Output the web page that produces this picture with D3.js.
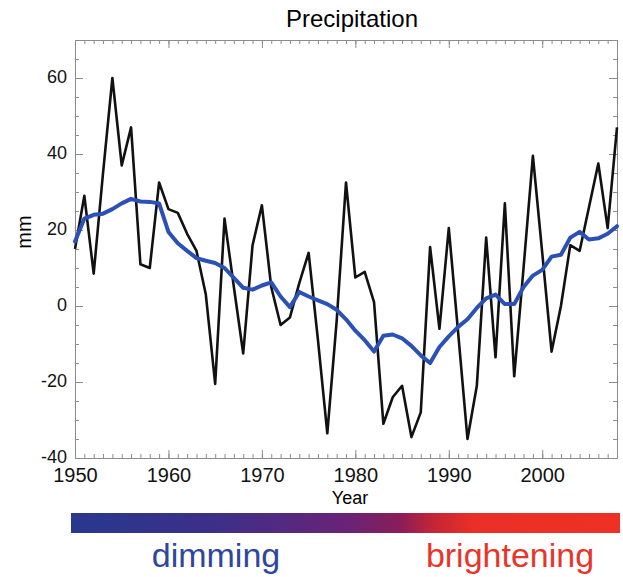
<!DOCTYPE html>
<html>
<head>
<meta charset="utf-8">
<script src="https://cdn.jsdelivr.net/npm/d3@7"></script>
<style>
  body { margin: 0; background: #fff; }
  svg { display: block; font-family: "Liberation Sans", Arial, sans-serif; }
  .axis path, .axis line { stroke: #8c8c8c; }
  .axis text { fill: #111; }
</style>
</head>
<body>
<div id="chart"></div>
<script>
const years = d3.range(1950, 2009);

// annual precipitation anomaly (black)
const annual = [
  15, 29, 8.5, 35, 60, 37, 47, 11, 10, 32.5,
  25.5, 24.5, 19, 14.5, 3, -20.5, 23, 5, -12.5, 16,
  26.5, 5, -5, -3, 6, 14, -9, -33.5, -4, 32.5,
  7.5, 9, 1, -31, -24, -21, -34.5, -28, 15.5, -6,
  20.5, -7, -35, -21, 18, -13.5, 27, -18.5, 10, 39.5,
  14, -12, 0, 16, 14.5, 26, 37.5, 20.5, 47
];

// smoothed curve (blue)
const smooth = [
  17, 23, 24, 24.3, 25.5, 27, 28.2, 27.5, 27.4, 27,
  19.5, 16.5, 14.5, 12.6, 11.9, 11.3, 10, 7.4, 4.8, 4.3,
  5.4, 6.2, 2.5, -0.3, 3.7, 2.5, 1.5, 0.5, -1, -3.5,
  -6.5, -9, -12, -7.8, -7.5, -8.5, -10.5, -13, -15, -10.8,
  -8, -5.5, -3.5, -0.5, 2, 3, 0.5, 0.5, 5, 8,
  9.5, 13, 13.5, 18, 19.5, 17.5, 17.8, 19, 21
];

const xTicks = [1950, 1960, 1970, 1980, 1990, 2000];
const yTicks = [-40, -20, 0, 20, 40, 60];
const xMinor = d3.range(1950, 2009);
const yMinor = d3.range(-40, 71, 5);

const W = 623, H = 577;
const margin = { top: 40, right: 6, bottom: 119, left: 75 };
const width = W - margin.left - margin.right;
const height = H - margin.top - margin.bottom;

let svg = d3.select("#chart").append("svg")
  .attr("width", W)
  .attr("height", H);

let g = svg.append("g")
  .attr("transform", "translate(" + margin.left + "," + margin.top + ")");

let x = d3.scaleLinear().domain([1950, 2008]).range([0, width]);
let y = d3.scaleLinear().domain([-40, 70]).range([height, 0]);

// minor ticks all round (inward)
g.append("g").attr("class", "axis")
  .attr("transform", "translate(0," + height + ")")
  .call(d3.axisBottom(x).tickValues(xMinor).tickSize(-4).tickSizeOuter(0).tickFormat(""));
g.append("g").attr("class", "axis")
  .call(d3.axisTop(x).tickValues(xMinor).tickSize(-4).tickSizeOuter(0).tickFormat(""));
g.append("g").attr("class", "axis")
  .call(d3.axisLeft(y).tickValues(yMinor).tickSize(-4).tickSizeOuter(0).tickFormat(""));
g.append("g").attr("class", "axis")
  .attr("transform", "translate(" + width + ",0)")
  .call(d3.axisRight(y).tickValues(yMinor).tickSize(-4).tickSizeOuter(0).tickFormat(""));

// major ticks + labels
g.append("g").attr("class", "axis x-axis")
  .attr("transform", "translate(0," + height + ")")
  .call(d3.axisBottom(x).tickValues(xTicks).tickSize(-8).tickSizeOuter(0).tickPadding(10).tickFormat(d => String(d)))
  .selectAll("text").style("font-size", "20px");
g.append("g").attr("class", "axis")
  .call(d3.axisTop(x).tickValues(xTicks).tickSize(-8).tickSizeOuter(0).tickFormat(""));
g.append("g").attr("class", "axis y-axis")
  .call(d3.axisLeft(y).tickValues(yTicks).tickSize(-8).tickSizeOuter(0).tickPadding(8).tickFormat(d => String(d)))
  .selectAll("text")
  .attr("dy", "0.25em")
  .style("font-size", "18px");
g.append("g").attr("class", "axis")
  .attr("transform", "translate(" + width + ",0)")
  .call(d3.axisRight(y).tickValues(yTicks).tickSize(-8).tickSizeOuter(0).tickFormat(""));

let line = d3.line()
  .x((d, i) => x(years[i]))
  .y(d => y(d));

g.append("path")
  .datum(annual)
  .attr("fill", "none")
  .attr("stroke", "#111")
  .attr("stroke-width", 2.6)
  .attr("stroke-linejoin", "round")
  .attr("d", line);

g.append("path")
  .datum(smooth)
  .attr("fill", "none")
  .attr("stroke", "#2b50b6")
  .attr("stroke-width", 4)
  .attr("stroke-linejoin", "round")
  .attr("stroke-linecap", "round")
  .attr("d", line);

// titles
svg.append("text")
  .attr("x", 352).attr("y", 27)
  .attr("text-anchor", "middle")
  .style("font-size", "24px")
  .text("Precipitation");

svg.append("text")
  .attr("x", 350).attr("y", 504)
  .attr("text-anchor", "middle")
  .style("font-size", "18px")
  .text("Year");

svg.append("text")
  .attr("transform", "translate(31,232) rotate(-90)")
  .attr("text-anchor", "middle")
  .style("font-size", "20px")
  .text("mm");

// dimming -> brightening colour bar
let grad = svg.append("defs").append("linearGradient")
  .attr("id", "dimbright");
[[0, "#29388f"], [0.25, "#3b3089"], [0.5, "#682378"], [0.6, "#8a1d58"],
 [0.66, "#c42536"], [0.73, "#e92f27"], [1, "#ef3124"]].forEach(s => {
  grad.append("stop").attr("offset", s[0]).attr("stop-color", s[1]);
});

svg.append("rect")
  .attr("x", 71).attr("y", 513)
  .attr("width", 549).attr("height", 20)
  .attr("fill", "url(#dimbright)");

svg.append("text")
  .attr("x", 216).attr("y", 567)
  .attr("text-anchor", "middle")
  .attr("fill", "#2e479c")
  .style("font-size", "34px")
  .text("dimming");

svg.append("text")
  .attr("x", 510).attr("y", 567)
  .attr("text-anchor", "middle")
  .attr("fill", "#e8352a")
  .style("font-size", "34px")
  .text("brightening");
</script>
</body>
</html>
